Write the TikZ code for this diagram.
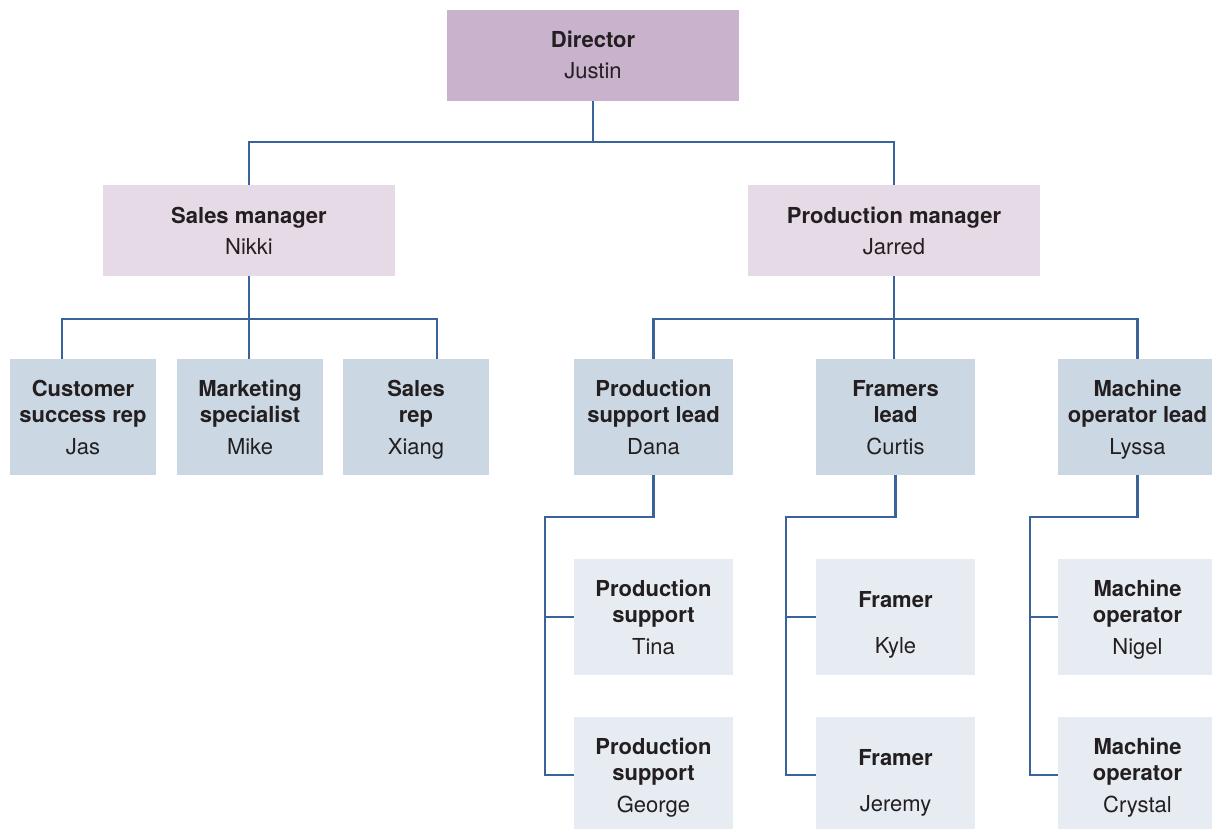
\documentclass[tikz,border=0pt]{standalone}
\usepackage{fontspec}
\setmainfont{TeX Gyre Heros}
\definecolor{cdir}{HTML}{C8B2CC}
\definecolor{cmgr}{HTML}{E6DAE6}
\definecolor{clead}{HTML}{CBD8E4}
\definecolor{cstaff}{HTML}{E6ECF2}
\definecolor{cline}{HTML}{3A6499}
\definecolor{ctxt}{HTML}{231F20}
\newcommand{\tstrut}{\rule{0pt}{21pt}}
\newcommand{\bstrut}{\rule[-5pt]{0pt}{5pt}}
\newcommand{\ftstrut}{\rule{0pt}{32pt}}
\tikzset{
  box/.style={rectangle, inner sep=0pt, align=center, text=ctxt,
    font=\fontsize{22}{26}\selectfont},
  dirbox/.style={box, fill=cdir, minimum width=292pt, minimum height=91pt},
  mgrbox/.style={box, fill=cmgr, minimum width=292pt, minimum height=91pt},
  salesbox/.style={box, fill=clead, minimum width=146pt, minimum height=116pt},
  leadbox/.style={box, fill=clead, minimum width=159pt, minimum height=116pt},
  staffbox/.style={box, fill=cstaff, minimum width=159pt, minimum height=116pt},
  conn/.style={draw=cline, line width=2.2pt}
}
\begin{document}
\begin{tikzpicture}[x=1pt,y=-1pt]
\clip (0,0) rectangle (1212,829);
\fill[white] (0,0) rectangle (1212,829);
% level 1
\node[dirbox] (dir) at (593,55.5) {\tstrut\textbf{Director}\\[5pt]Justin\bstrut};
% level 2
\node[mgrbox] (sales) at (249,230.5) {\tstrut\textbf{Sales manager}\\[5pt]Nikki\bstrut};
\node[mgrbox] (prod) at (894,230.5) {\tstrut\textbf{Production manager}\\[5pt]Jarred\bstrut};
% level 3 sales
\node[salesbox] (csr) at (83,417) {\tstrut\textbf{Customer}\\\textbf{success rep}\\[6pt]Jas\bstrut};
\node[salesbox] (mkt) at (250,417) {\tstrut\textbf{Marketing}\\\textbf{specialist}\\[6pt]Mike\bstrut};
\node[salesbox] (srep) at (416,417) {\tstrut\textbf{Sales}\\\textbf{rep}\\[6pt]Xiang\bstrut};
% level 3 production
\node[leadbox] (psl) at (653.5,417) {\tstrut\textbf{Production}\\\textbf{support lead}\\[6pt]Dana\bstrut};
\node[leadbox] (fl) at (895.5,417) {\tstrut\textbf{Framers}\\\textbf{lead}\\[6pt]Curtis\bstrut};
\node[leadbox] (mol) at (1137.5,417) {\tstrut\textbf{Machine}\\\textbf{operator lead}\\[6pt]Lyssa\bstrut};
% level 4
\node[staffbox] (ps1) at (653.5,617) {\tstrut\textbf{Production}\\\textbf{support}\\[6pt]Tina\bstrut};
\node[staffbox] (ps2) at (653.5,775) {\tstrut\textbf{Production}\\\textbf{support}\\[6pt]George\bstrut};
\node[staffbox] (fr1) at (895.5,617) {\ftstrut\textbf{Framer}\\[20pt]Kyle\bstrut};
\node[staffbox] (fr2) at (895.5,775) {\ftstrut\textbf{Framer}\\[20pt]Jeremy\bstrut};
\node[staffbox] (mo1) at (1137.5,617) {\tstrut\textbf{Machine}\\\textbf{operator}\\[6pt]Nigel\bstrut};
\node[staffbox] (mo2) at (1137.5,775) {\tstrut\textbf{Machine}\\\textbf{operator}\\[6pt]Crystal\bstrut};
% connectors level 1-2
\draw[conn] (dir.south) -- ++(0,41) coordinate (j1);
\draw[conn] (sales.north) |- (j1) -| (prod.north);
% sales connectors
\draw[conn] (sales.south) -- ++(0,43) coordinate (j2);
\draw[conn] ([xshift=-21pt]csr.north) |- (j2) -| ([xshift=21pt]srep.north);
\draw[conn] (j2) -- (mkt.north -| j2);
% production connectors
\draw[conn] (prod.south) -- ++(0,43) coordinate (j3);
\draw[conn] (psl.north) |- (j3) -| (mol.north);
\draw[conn] (j3) -- (fl.north -| j3);
% level 4 connectors
\draw[conn] (psl.south) -- ++(0,42) -| ([xshift=-29pt]ps2.west) -- (ps2.west);
\draw[conn] ([xshift=-29pt]ps1.west) -- (ps1.west);
\draw[conn] (fl.south) -- ++(0,42) -| ([xshift=-30pt]fr2.west) -- (fr2.west);
\draw[conn] ([xshift=-30pt]fr1.west) -- (fr1.west);
\draw[conn] (mol.south) -- ++(0,42) -| ([xshift=-28pt]mo2.west) -- (mo2.west);
\draw[conn] ([xshift=-28pt]mo1.west) -- (mo1.west);
\end{tikzpicture}
\end{document}
